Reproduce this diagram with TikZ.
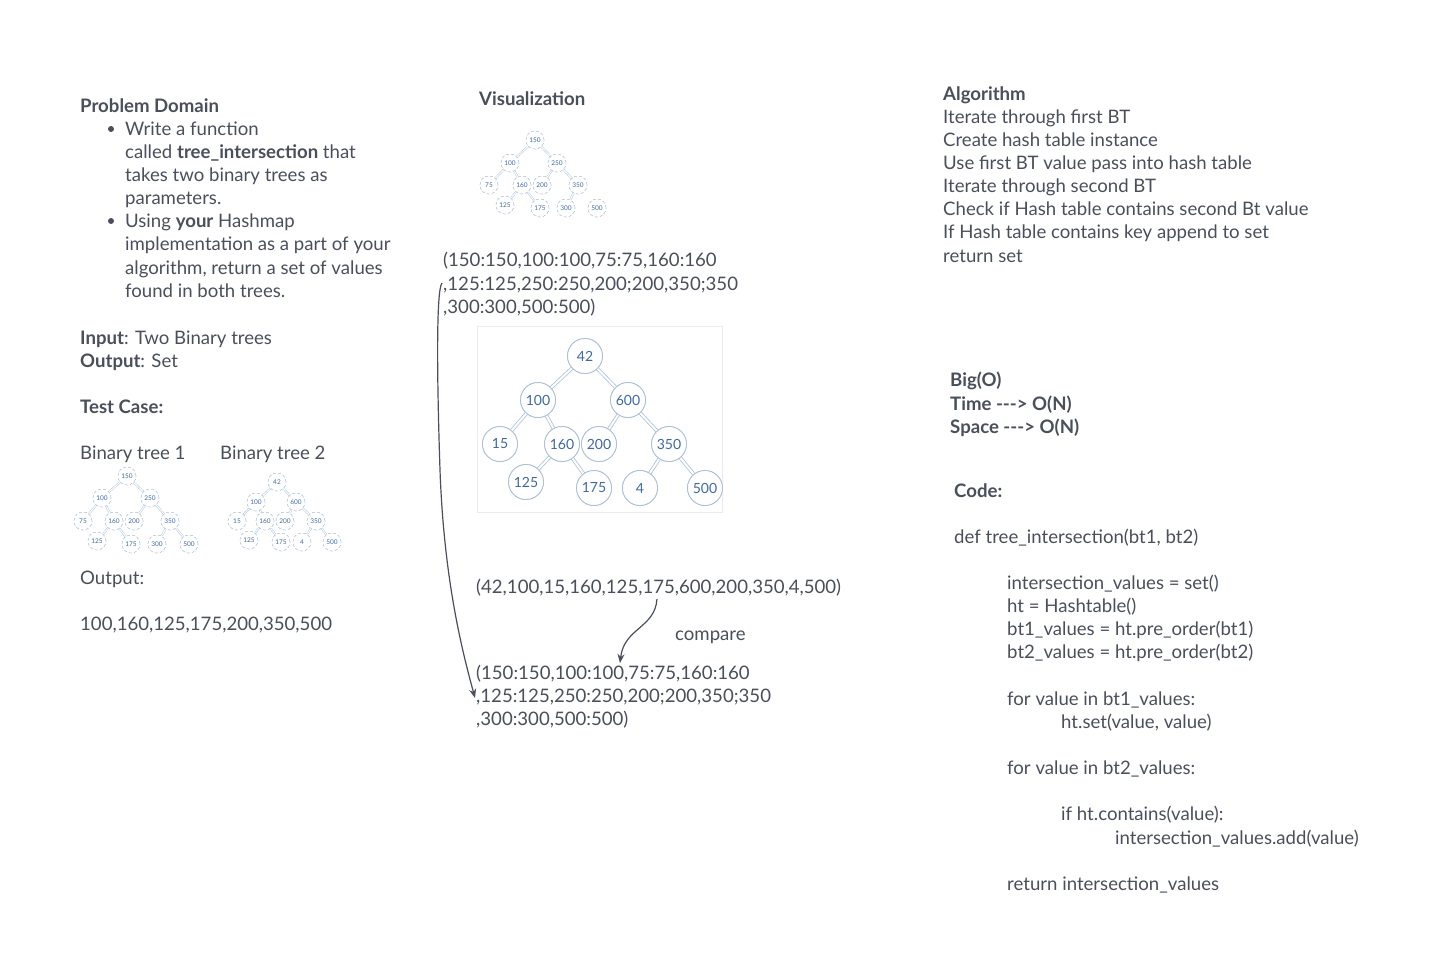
\documentclass[tikz,border=0pt]{standalone}
\usepackage{fontspec}
\setmainfont{Lato}
\usetikzlibrary{arrows.meta}
\definecolor{txt}{RGB}{74,79,92}
\definecolor{tblue}{RGB}{62,106,160}
\definecolor{cbord}{RGB}{170,190,214}
\definecolor{ecol}{RGB}{170,194,222}
\definecolor{boxc}{RGB}{232,236,240}
\begin{document}
\begin{tikzpicture}[x=1pt,y=-1pt,
  lbl/.style={anchor=base west, inner sep=0, text=txt, font=\fontsize{18.6}{22}\selectfont},
  bl/.style={lbl, font=\fontsize{18.6}{22}\selectfont\bfseries},
  bul/.style={circle, fill=txt, inner sep=0, minimum size=6pt},
  bn/.style={circle, draw=cbord, fill=white, line width=0.8pt, minimum size=35pt, inner sep=0, text=tblue, font=\fontsize{14}{14}\selectfont},
  sn/.style={circle, draw=cbord, densely dashed, fill=white, line width=0.4pt, minimum size=18pt, inner sep=0, text=tblue, font=\fontsize{6.5}{7}\selectfont},
  be/.style={draw=ecol, line width=0.8pt, double=white, double distance=2pt},
  se/.style={draw=ecol, line width=0.45pt, double=white, double distance=1pt},
  arr/.style={draw=txt, line width=1.2pt, -{Stealth[length=9pt,width=7pt]}},
]
\useasboundingbox[fill=white] (0,0) rectangle (1438,962);

% ---------- left column ----------
\node[bl] (pd) at (80,112) {Problem Domain};
\node[bul] (b1) at (111,129) {};
\node[bul] (b2) at (111,221) {};
\node[lbl] (l1) at (125,135) {Write a function};
\node[lbl] (l2) at (125,158) {called \textbf{tree\_intersection} that};
\node[lbl] (l3) at (125,181) {takes two binary trees as};
\node[lbl] (l4) at (125,204) {parameters.};
\node[lbl] (l5) at (125,227) {Using \textbf{your} Hashmap};
\node[lbl] (l6) at (125,250) {implementation as a part of your};
\node[lbl] (l7) at (125,274) {algorithm, return a set of values};
\node[lbl] (l8) at (125,297) {found in both trees.};
\node[lbl] (inp) at (80,344) {\textbf{Input}: Two Binary trees};
\node[lbl] (outp) at (80,367) {\textbf{Output}: Set};
\node[bl] (tc) at (80,413) {Test Case:};
\node[lbl] (bt1) at (80,459) {Binary tree 1};
\node[lbl] (bt2) at (220,459) {Binary tree 2};
\node[lbl] (out) at (80,584) {Output:};
\node[lbl] (res) at (80,630) {100,160,125,175,200,350,500};

% test tree 1
\node[sn] (p150) at (127,476) {150};
\node[sn] (p100) at (102,498) {100};
\node[sn] (p250) at (150,498) {250};
\node[sn] (p75) at (83,521) {75};
\node[sn] (p160) at (114,521) {160};
\node[sn] (p200) at (134,521) {200};
\node[sn] (p350) at (170,521) {350};
\node[sn] (p125) at (97,541) {125};
\node[sn] (p175) at (131,544) {175};
\node[sn] (p300) at (157,544) {300};
\node[sn] (p500) at (189,544) {500};
\foreach \a/\b in {p150/p100,p150/p250,p100/p75,p100/p160,p160/p125,p160/p175,p250/p200,p250/p350,p350/p300,p350/p500}
  \path[se] (\a) -- (\b);
\foreach \n/\t in {p150/150,p100/100,p250/250,p75/75,p160/160,p200/200,p350/350,p125/125,p175/175,p300/300,p500/500}
  \node[sn] at (\n) {\t};

% test tree 2
\node[sn] (q42) at (277,482) {42};
\node[sn] (q100) at (256,502) {100};
\node[sn] (q600) at (296,502) {600};
\node[sn] (q15) at (237,521) {15};
\node[sn] (q160) at (265,521) {160};
\node[sn] (q200) at (285,521) {200};
\node[sn] (q350) at (316,521) {350};
\node[sn] (q125) at (249,540) {125};
\node[sn] (q175) at (281,542) {175};
\node[sn] (q4) at (302,542) {4};
\node[sn] (q500) at (332,542) {500};
\foreach \a/\b in {q42/q100,q42/q600,q100/q15,q100/q160,q160/q125,q160/q175,q600/q200,q600/q350,q350/q4,q350/q500}
  \path[se] (\a) -- (\b);
\foreach \n/\t in {q42/42,q100/100,q600/600,q15/15,q160/160,q200/200,q350/350,q125/125,q175/175,q4/4,q500/500}
  \node[sn] at (\n) {\t};

% ---------- middle column ----------
\node[bl] (vis) at (479,105) {Visualization};

% top tree
\node[sn] (v150) at (535,140) {150};
\node[sn] (v100) at (510,163) {100};
\node[sn] (v250) at (557,163) {250};
\node[sn] (v75) at (489,185) {75};
\node[sn] (v160) at (522,185) {160};
\node[sn] (v200) at (542,185) {200};
\node[sn] (v350) at (578,185) {350};
\node[sn] (v125) at (505,205) {125};
\node[sn] (v175) at (540,208) {175};
\node[sn] (v300) at (566,208) {300};
\node[sn] (v500) at (597,208) {500};
\foreach \a/\b in {v150/v100,v150/v250,v100/v75,v100/v160,v160/v125,v160/v175,v250/v200,v250/v350,v350/v300}
  \path[se] (\a) -- (\b);
\foreach \n/\t in {v150/150,v100/100,v250/250,v75/75,v160/160,v200/200,v350/350,v125/125,v175/175,v300/300,v500/500}
  \node[sn] at (\n) {\t};

\node[lbl] (h1) at (443,266) {(150:150,100:100,75:75,160:160};
\node[lbl] (h2) at (443,290) {,125:125,250:250,200;200,350;350};
\node[lbl] (h3) at (443,313) {,300:300,500:500)};

% big tree
\draw[boxc, line width=0.6pt] (477,326) rectangle (722,512);
\node[bn] (a42) at (585,356) {42};
\node[bn] (a100) at (538,400) {100};
\node[bn] (a600) at (628,400) {600};
\node[bn] (a15) at (500,444) {15};
\node[bn] (a160) at (562,444) {160};
\node[bn] (a200) at (599,444) {200};
\node[bn] (a350) at (669,444) {350};
\node[bn] (a125) at (526,482) {125};
\node[bn] (a175) at (594,488) {175};
\node[bn] (a4) at (640,488) {4};
\node[bn] (a500) at (705,488) {500};
\foreach \a/\b in {a42/a100,a42/a600,a100/a15,a100/a160,a160/a125,a160/a175,a600/a200,a600/a350,a350/a4,a350/a500}
  \path[be] (\a) -- (\b);
\foreach \n/\t in {a42/42,a100/100,a600/600,a15/15,a160/160,a200/200,a350/350,a125/125,a175/175,a4/4,a500/500}
  \node[bn] at (\n) {\t};

\node[lbl] (pre) at (476,593) {(42,100,15,160,125,175,600,200,350,4,500)};
\node[lbl] (cmp) at (675,640) {compare};
\node[lbl] (k1) at (476,679) {(150:150,100:100,75:75,160:160};
\node[lbl] (k2) at (476,702) {,125:125,250:250,200;200,350;350};
\node[lbl] (k3) at (476,725) {,300:300,500:500)};

\coordinate (s1) at (442,283);
\coordinate (e1) at (475,698);
\coordinate (m1) at (440,470);
\draw[arr] (s1) .. controls (436,290) and (437,380) .. (m1) .. controls (444,580) and (462,650) .. (e1);
\coordinate (s2) at (657,599);
\coordinate (e2) at (620,663);
\draw[arr] (s2) .. controls (655,628) and (624,628) .. (e2);

% ---------- right column ----------
\node[bl] (alg) at (943,100) {Algorithm};
\node[lbl] (g1) at (943,123) {Iterate through first BT};
\node[lbl] (g2) at (943,146) {Create hash table instance};
\node[lbl] (g3) at (943,169) {Use first BT value pass into hash table};
\node[lbl] (g4) at (943,192) {Iterate through second BT};
\node[lbl] (g5) at (943,215) {Check if Hash table contains second Bt value};
\node[lbl] (g6) at (943,238) {If Hash table contains key append to set};
\node[lbl] (g7) at (943,262) {return set};

\node[bl] (bo1) at (950,386) {Big(O)};
\node[bl] (bo2) at (950,410) {Time {-}{-}{-}> O(N)};
\node[bl] (bo3) at (950,433) {Space {-}{-}{-}> O(N)};

\node[bl] (code) at (954,497) {Code:};
\node[lbl] (c0) at (954,543) {def tree\_intersection(bt1, bt2)};
\node[lbl] (c1) at (1007,589) {intersection\_values = set()};
\node[lbl] (c2) at (1007,612) {ht = Hashtable()};
\node[lbl] (c3) at (1007,635) {bt1\_values = ht.pre\_order(bt1)};
\node[lbl] (c4) at (1007,658) {bt2\_values = ht.pre\_order(bt2)};
\node[lbl] (c5) at (1007,705) {for value in bt1\_values:};
\node[lbl] (c6) at (1061,728) {ht.set(value, value)};
\node[lbl] (c7) at (1007,774) {for value in bt2\_values:};
\node[lbl] (c8) at (1061,820) {if ht.contains(value):};
\node[lbl] (c9) at (1115,844) {intersection\_values.add(value)};
\node[lbl] (c10) at (1007,890) {return intersection\_values};
\end{tikzpicture}
\end{document}
